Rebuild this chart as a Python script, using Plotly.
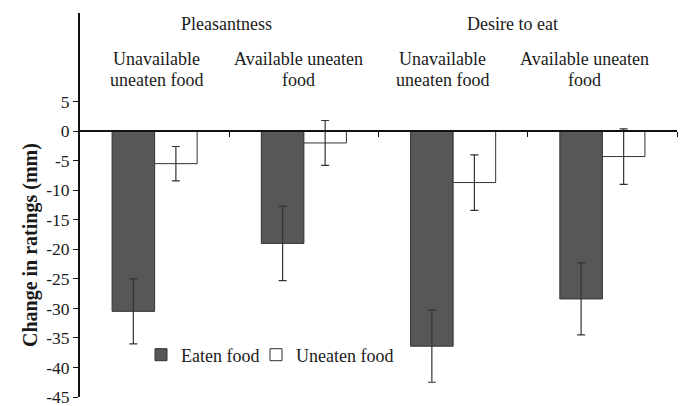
import plotly.graph_objects as go

# ---- data ----
categories = [0, 1, 2, 3]
sub_labels = ["Unavailable<br>uneaten food", "Available uneaten<br>food",
              "Unavailable<br>uneaten food", "Available uneaten<br>food"]
group_labels = ["Pleasantness", "Desire to eat"]
eaten = [-30.5, -19.0, -36.4, -28.4]
eaten_err = [5.5, 6.3, 6.1, 6.1]
uneaten = [-5.5, -2.0, -8.7, -4.3]
uneaten_err = [2.9, 3.8, 4.7, 4.7]
tick_vals = [5, 0, -5, -10, -15, -20, -25, -30, -35, -40, -45]
tick_text = ["5", "0", "-5", "-10", "-15", "-20", "-25", "-30", "-35", "-40", "-45"]

FONT = "Liberation Serif, Times New Roman, serif"
L, R, T, B = 80, 6, 13, 9
W, H = 683, 406
pw = W - L - R
ph = H - T - B

def px_x(px):
    return (px - L) / pw

def px_y(py):
    return (H - B - py) / ph

fig = go.Figure()
fig.add_trace(go.Bar(
    x=categories, y=eaten, name="Eaten food", legend="legend",
    marker=dict(color="#575757", line=dict(color="#333333", width=1)),
    error_y=dict(type="data", array=eaten_err, visible=True,
                 color="#333333", thickness=1.2, width=4),
))
fig.add_trace(go.Bar(
    x=categories, y=uneaten, name="Uneaten food", legend="legend2",
    marker=dict(color="#ffffff", line=dict(color="#333333", width=1)),
    error_y=dict(type="data", array=uneaten_err, visible=True,
                 color="#333333", thickness=1.2, width=4),
))

annotations = []
group_px = [226, 512]
for lab, cx in zip(group_labels, group_px):
    annotations.append(dict(text=lab, x=px_x(cx), y=px_y(24), xref="paper", yref="paper",
                            showarrow=False, xanchor="center", yanchor="middle",
                            font=dict(family=FONT, size=18, color="#1a1a1a")))
sub_px = [156, 298, 442, 584]
for lab, cx in zip(sub_labels, sub_px):
    for i, line in enumerate(lab.split("<br>")):
        annotations.append(dict(text=line, x=px_x(cx), y=px_y(59 + 21 * i), xref="paper", yref="paper",
                                showarrow=False, xanchor="center", yanchor="middle",
                                font=dict(family=FONT, size=18, color="#1a1a1a")))
annotations.append(dict(text="<b>Change in ratings (mm)</b>", textangle=-90,
                        x=px_x(30), y=px_y(245), xref="paper", yref="paper",
                        showarrow=False, xanchor="center", yanchor="middle",
                        font=dict(family=FONT, size=20, color="#1a1a1a")))

legend_common = dict(orientation="h", yanchor="middle", xanchor="left",
                     font=dict(family=FONT, size=18, color="#1a1a1a"),
                     bgcolor="rgba(0,0,0,0)", itemwidth=30)

fig.update_layout(
    width=W, height=H,
    margin=dict(l=L, r=R, t=T, b=B, autoexpand=False),
    paper_bgcolor="white", plot_bgcolor="white",
    barmode="group", bargap=0.43, bargroupgap=0,
    font=dict(family=FONT, size=18, color="#1a1a1a"),
    showlegend=True,
    legend=dict(x=px_x(141), y=px_y(355), **legend_common),
    legend2=dict(x=px_x(256), y=px_y(355), **legend_common),
    annotations=annotations,
    xaxis=dict(range=[-0.5, 3.5], showgrid=False, zeroline=False,
               showline=True, linecolor="#111111", linewidth=2,
               anchor="free", position=45 / 65, automargin=False,
               ticks="outside", tickvals=[0.5, 1.5, 2.5, 3.5], ticklen=5,
               tickcolor="#111111", tickwidth=1, showticklabels=False),
    yaxis=dict(range=[-45, 20], showgrid=False, zeroline=False, automargin=False,
               showline=True, linecolor="#111111", linewidth=2,
               ticks="outside", ticklen=5, tickcolor="#111111", tickwidth=1,
               tickvals=tick_vals, ticktext=tick_text, ticklabeloverflow="allow",
               tickfont=dict(family=FONT, size=17.5, color="#1a1a1a")),
)

fig.write_html("out.html", config={"displayModeBar": False},
               post_script="document.body.style.margin='0';document.body.style.overflow='hidden';")
